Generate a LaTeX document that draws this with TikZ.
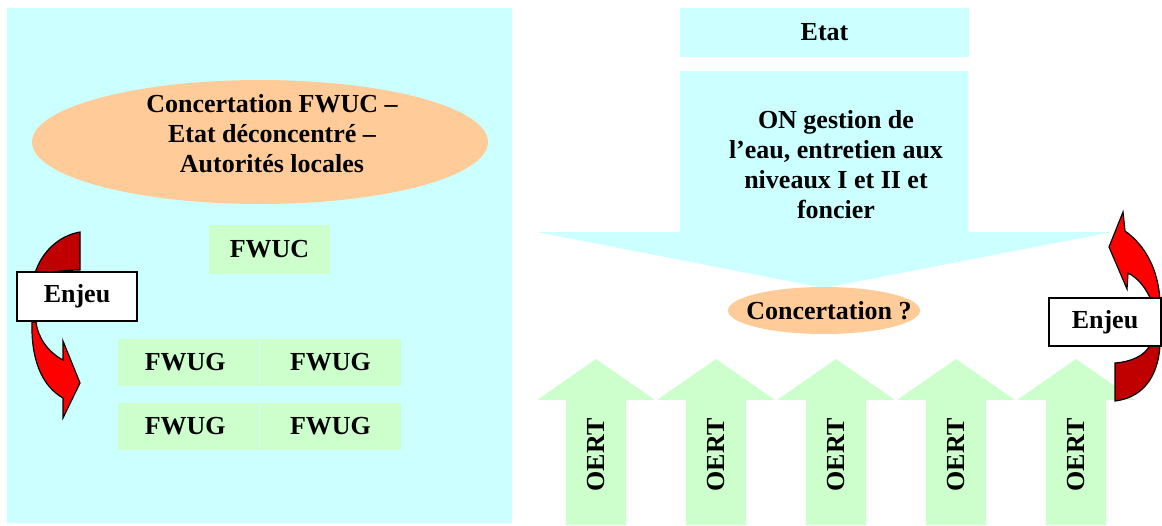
\documentclass[tikz,border=0pt]{standalone}
\usepackage{fontspec}
\setmainfont{Liberation Serif}
\usepackage{xcolor}
\usepackage{tikz}
\usetikzlibrary{matrix,shapes.geometric}

\definecolor{fwcyan}{HTML}{CCFFFF}
\definecolor{fwgreen}{HTML}{CCFFCC}
\definecolor{fwpeach}{HTML}{FFCC99}
\definecolor{fwdarkred}{HTML}{C00000}

\begin{document}
\begin{tikzpicture}[x=0.5pt, y=-0.5pt, every node/.style={font=\fontsize{13}{15}\selectfont\bfseries, align=center, inner sep=0pt}, greenbox/.style={fill=fwgreen, minimum width=60.5pt, minimum height=24.5pt}, enjeubox/.style={draw=black, fill=white, line width=0.7pt, minimum width=60pt, minimum height=24.5pt}, curved/.style={draw=black, line width=0.6pt}]
  \useasboundingbox (0,0) rectangle (1162,525);
  \fill[fwcyan] (7,8) rectangle (512,523);
  \node[ellipse, fill=fwpeach, minimum width=228pt, minimum height=62pt] (concfwuc) at (260,142) {};
  \node (concfwuctext) at (272,134) {Concertation FWUC --\\Etat déconcentré --\\Autorités locales};
  \node[greenbox] (fwuc) at (269.5,249.5) {FWUC};
  \matrix (fwug) [matrix of nodes, nodes={greenbox, minimum width=70.5pt, minimum height=23.5pt}, column sep=0.5pt, row sep=8.5pt] at (259.5,394.5)
  {
    FWUG & FWUG\\
    FWUG & FWUG\\
  };
  \draw[curved, fill=fwdarkred] (80,232) .. controls (58,236) and (42,252) .. (35,273) -- (50,273) .. controls (58,271) and (70,270) .. (80,270) -- cycle;
  \draw[curved, fill=red] (32,322) .. controls (31,360) and (42,386) .. (63,398) -- (63,418) -- (80,383) -- (63,341) -- (63,360) .. controls (48,352) and (38,338) .. (36,322) -- cycle;
  \node[enjeubox] (enjeul) at (77,296.5) {Enjeu};

  \node[fill=fwcyan, minimum width=144.5pt, minimum height=24.5pt] (etat) at (824.5,32.5) {Etat};
  \fill[fwcyan] (680,71) -- (968,71) -- (968,232) -- (1112,232) -- (824,288) -- (537,232) -- (680,232) -- cycle;
  \node (on) at (836,165) {ON gestion de\\l’eau, entretien aux\\niveaux I et II et\\foncier};
  \node[ellipse, fill=fwpeach, minimum width=96pt, minimum height=23.5pt] (concert) at (824,310.5) {};
  \node (concerttext) at (829,310.5) {Concertation ?};
  \foreach \i in {0,...,4}{
    \fill[fwgreen] ({596+120*\i-30},525) -- ++(0,-125) -- ++(-29,0) -- ++(59,-41) -- ++(59,41) -- ++(-29,0) -- ++(0,125) -- cycle;
    \node[rotate=90] (oert\i) at ({596+120*\i},455) {OERT};
  }
  \draw[curved, fill=red] (1123,212) -- (1125,231) .. controls (1146,246) and (1158,270) .. (1160,300) -- (1151,300) .. controls (1146,288) and (1138,278) .. (1128,273) -- (1127,289) -- (1109,247) -- cycle;
  \draw[curved, fill=fwdarkred] (1160,345) .. controls (1158,380) and (1140,398) .. (1115,401) -- (1115,363) .. controls (1130,362) and (1145,356) .. (1150,345) -- cycle;
  \node[enjeubox, minimum width=56pt, minimum height=24pt] (enjeur) at (1105,322) {Enjeu};
\end{tikzpicture}
\end{document}
